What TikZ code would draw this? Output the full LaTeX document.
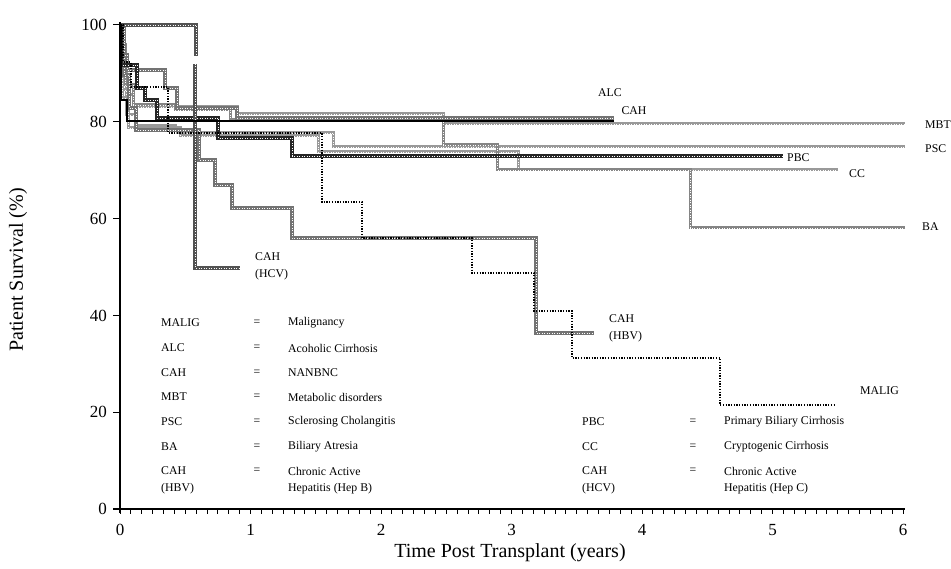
\documentclass[tikz,border=0pt]{standalone}
\usepackage{fontspec}
\setmainfont{Liberation Serif}
\begin{document}
\begin{tikzpicture}[x=1pt,y=-1pt,
  tex/.style={postaction={draw=white,line width=0.6pt,dash pattern=on 0.8pt off 1.7pt}},
  hdark/.style={draw=black!68,line width=4.8pt,tex},
  hmid/.style={draw=black!55,line width=3.2pt,tex},
  hmidb/.style={draw=black!48,line width=3pt,tex},
  hlight/.style={draw=black!40,line width=3pt,tex},
  pbcline/.style={draw=black!85,line width=3.4pt,tex},
  dotline/.style={draw=black,line width=1.6pt,dash pattern=on 1.3pt off 1.4pt},
  thinline/.style={draw=black,line width=1.1pt},
  lab/.style={font=\fontsize{11.8}{13}\selectfont,inner sep=0pt},
  tick/.style={font=\fontsize{17}{19}\selectfont,inner sep=0pt},
  axtitle/.style={font=\fontsize{20}{22}\selectfont,inner sep=0pt},
  axisline/.style={draw=black,line width=1.4pt}]
\useasboundingbox (0,0) rectangle (951,569);

% ---- curves ----
% MBT
\draw[hlight] (120,25) -- (121,25) -- (121,70) -- (126,70) -- (126,95) -- (133,95) -- (133,107) -- (237,107) -- (237,114) -- (443,114) -- (443,124) -- (905,124);
% PSC
\draw[hlight] (120,25) -- (121,25) -- (121,90) -- (126,90) -- (126,115) -- (135,115) -- (135,126) -- (175,126) -- (175,133) -- (333,133) -- (333,147) -- (905,147);
% CC
\draw[hlight] (120,25) -- (122,25) -- (122,98) -- (128,98) -- (128,128) -- (180,128) -- (180,136) -- (318,136) -- (318,152) -- (518,152) -- (518,170) -- (838,170);
% BA
\draw[hmidb] (120,25) -- (121,25) -- (121,45) -- (125,45) -- (125,85) -- (133,85) -- (133,105) -- (175,105) -- (175,110) -- (230,110) -- (230,120) -- (443,120) -- (443,145) -- (497,145) -- (497,170) -- (690,170) -- (690,228) -- (905,228);
% CAH (HBV)
\draw[hmid] (120,25) -- (124,25) -- (124,75) -- (129,75) -- (129,108) -- (136,108) -- (136,130) -- (199,130) -- (199,160) -- (215,160) -- (215,185) -- (232,185) -- (232,208) -- (292,208) -- (292,238) -- (536,238) -- (536,333) -- (594,333);
% CAH (NANBNC)
\draw[hmid] (120,25) -- (122,25) -- (122,55) -- (127,55) -- (127,70) -- (165,70) -- (165,88) -- (177,88) -- (177,108) -- (237,108) -- (237,118) -- (614,118);
% PBC
\draw[pbcline] (120,25) -- (121,25) -- (121,65) -- (137,65) -- (137,88) -- (145,88) -- (145,100) -- (157,100) -- (157,118) -- (218,118) -- (218,138) -- (292,138) -- (292,156) -- (783,156);
% CAH (HCV)
\draw[hdark] (120,25) -- (196,25) -- (196,56);
\draw[hdark] (195,64) -- (195,268) -- (240,268);
% ALC
\draw[thinline] (120,25) -- (121,25) -- (121,100) -- (127,100) -- (127,121) -- (614,121);
% MALIG
\draw[dotline] (120,25) -- (123,25) -- (123,62) -- (131,62) -- (131,87) -- (168,87) -- (168,133) -- (322,133) -- (322,202) -- (362,202) -- (362,238) -- (472,238) -- (472,273) -- (534,273) -- (534,311) -- (572,311) -- (572,358) -- (720,358) -- (720,405) -- (835,405);

% ---- axes ----
\draw[axisline,line width=1.8pt] (120,22) -- (120,513);
\draw[axisline] (113,509) -- (905,509);
\foreach \v/\yy in {0/509,20/412,40/316,60/219,80/122,100/25}{
  \draw[axisline,line width=1pt] (113,\yy) -- (120,\yy);
  \node[tick,anchor=east] (yl\v) at (107,\yy) {\v};
}
\foreach \i in {0,...,72}{
  \draw[black,line width=0.9pt] ({120+\i*130.5/12},509) -- ({120+\i*130.5/12},514);
}
\foreach \t in {0,...,6}{
  \node[tick] (xl\t) at ({120+\t*130.5},530) {\t};
}
\node[axtitle] (xtitle) at (510,553) {Time Post Transplant (years)};
\node[axtitle,rotate=90] (ytitle) at (18,270) {Patient Survival (\%)};

% ---- curve labels ----
\node[lab] (lALC) at (610,93) {ALC};
\node[lab] (lCAH) at (634,111) {CAH};
\node[lab,anchor=west] (lMBT) at (925,125) {MBT};
\node[lab,anchor=west] (lPSC) at (925,149) {PSC};
\node[lab,anchor=west] (lPBC) at (787,158) {PBC};
\node[lab,anchor=west] (lCC) at (849,174) {CC};
\node[lab,anchor=west] (lBA) at (922,227) {BA};
\node[lab,anchor=west] (lHBV1) at (609,319) {CAH};
\node[lab,anchor=west] (lHBV2) at (609,337) {(HBV)};
\node[lab,anchor=west] (lMALIG) at (860,391) {MALIG};
\node[lab,anchor=west] (lHCV1) at (255,257) {CAH};
\node[lab,anchor=west] (lHCV2) at (255,275) {(HCV)};

% ---- legend left ----
\foreach \n/\a/\d/\yy in {1/MALIG/Malignancy/323, 2/ALC/Acoholic Cirrhosis/348, 3/CAH/NANBNC/373, 4/MBT/Metabolic disorders/397, 5/PSC/Sclerosing Cholangitis/422, 6/BA/Biliary Atresia/447, 7/CAH/Chronic Active/471}{
  \node[lab,anchor=west] (la\n) at (161,\yy) {\a};
  \node[lab] (le\n) at (257,\yy) {=};
  \node[lab,anchor=west] (ld\n) at (288,\yy) {\d};
}
\node[lab,anchor=west] (la8) at (161,489) {(HBV)};
\node[lab,anchor=west] (ld8) at (288,489) {Hepatitis (Hep B)};

% ---- legend right ----
\foreach \n/\a/\d/\yy in {1/PBC/Primary Biliary Cirrhosis/422, 2/CC/Cryptogenic Cirrhosis/447, 3/CAH/Chronic Active/471}{
  \node[lab,anchor=west] (ra\n) at (582,\yy) {\a};
  \node[lab] (re\n) at (693,\yy) {=};
  \node[lab,anchor=west] (rd\n) at (724,\yy) {\d};
}
\node[lab,anchor=west] (ra4) at (582,489) {(HCV)};
\node[lab,anchor=west] (rd4) at (724,489) {Hepatitis (Hep C)};
\end{tikzpicture}
\end{document}
